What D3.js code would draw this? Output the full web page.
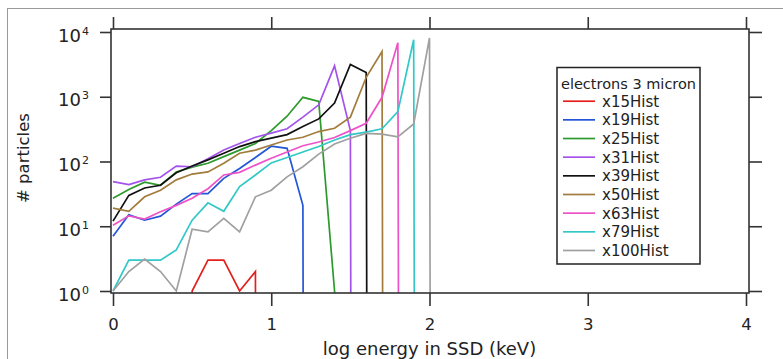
<!DOCTYPE html>
<html>
<head>
<meta charset="utf-8">
<script src="https://cdn.jsdelivr.net/npm/d3@7"></script>
<style>
  body { margin: 0; background: #fff; }
  text { font-family: "DejaVu Sans", sans-serif; fill: #222; }
</style>
</head>
<body>
<div id="chart"></div>
<script>
// log10 of energy (keV), one bin every 0.1
const logE = [0, 0.1, 0.2, 0.3, 0.4, 0.5, 0.6, 0.7, 0.8, 0.9, 1.0,
              1.1, 1.2, 1.3, 1.4, 1.5, 1.6, 1.7, 1.8, 1.9, 2.0, 2.1];

const seriesNames = ["x15Hist", "x19Hist", "x25Hist", "x31Hist", "x39Hist",
                     "x50Hist", "x63Hist", "x79Hist", "x100Hist"];
const seriesColors = ["#e4201c", "#2456d8", "#2c9a2c", "#a452ec", "#111111",
                      "#a27c3c", "#ee52c8", "#32c8c8", "#a0a0a0"];

// counts per bin (0 = empty bin)
const x15Hist  = [0, 0, 0, 0, 0, 1, 3, 3, 1, 2, 0];
const x19Hist  = [7, 15, 12.4, 14.3, 22, 32, 32, 55, 78, 115, 172, 160, 21, 0];
const x25Hist  = [27, 37, 48, 43, 69, 82, 94, 119, 150, 190, 300, 500, 980, 845, 1, 0];
const x31Hist  = [49, 44, 52, 57, 85, 83, 110, 151, 190, 237, 274, 320, 485, 750, 3000, 300, 0];
const x39Hist  = [12, 30, 39, 43, 67, 85, 106, 134, 170, 203, 229, 260, 346, 455, 800, 3150, 2360, 0];
const x50Hist  = [19, 17, 28.5, 36, 52, 64, 69, 94, 134, 150, 180, 215, 237, 290, 326, 485, 2000, 5000, 0];
const x63Hist  = [10.4, 14.5, 12.9, 16.7, 21, 27, 38, 62, 68, 88, 112, 140, 175, 200, 235, 300, 390, 980, 6800, 0];
const x79Hist  = [1, 3, 3, 3, 4.3, 12.4, 23, 17, 41, 62, 95, 115, 140, 170, 215, 260, 285, 320, 590, 7600, 0];
const x100Hist = [1, 2, 3.1, 2, 1, 9, 8.2, 13.2, 8.2, 28.5, 36, 58, 83, 130, 186, 229, 272, 265, 240, 380, 8100, 0];

const xTicks = [0, 1, 2, 3, 4];
const yTicks = [1, 10, 100, 1000, 10000];
const yTickExp = ["0", "1", "2", "3", "4"];

const legendTitle = "electrons 3 micron";
const xTitle = "log energy in SSD (keV)";
const yTitle = "# particles";

function draw() {
    let width = 783, height = 359;
    let allSeries = [x15Hist, x19Hist, x25Hist, x31Hist, x39Hist, x50Hist, x63Hist, x79Hist, x100Hist];

    let svg = d3.select("#chart").append("svg")
        .attr("width", width)
        .attr("height", height);

    // outer border of the figure
    svg.append("rect")
        .attr("x", 7.5).attr("y", 8.5)
        .attr("width", 820).attr("height", 400)
        .attr("fill", "none").attr("stroke", "#9a9a9a");

    let x = d3.scaleLinear().domain([0, 4]).range([113, 746]);
    let y = d3.scaleLog().domain([1, 10000]).range([291, 32]);

    // plot frame sits a little outside the tick range
    let fl = x(0) - 2, fr = x(4) + 3, ft = y(10000) - 3, fb = y(1) + 2;

    svg.append("clipPath").attr("id", "plotclip")
        .append("rect")
        .attr("x", fl).attr("y", ft)
        .attr("width", fr - fl).attr("height", fb - ft);

    // empty bins go down to "minus infinity" on the log axis
    let line = d3.line()
        .x((d, i) => x(logE[i]))
        .y(d => y(Math.max(d, 1e-100)));

    svg.append("g")
        .attr("clip-path", "url(#plotclip)")
        .selectAll("path")
        .data(allSeries)
        .enter().append("path")
        .attr("d", d => line(d))
        .attr("fill", "none")
        .attr("stroke", (d, i) => seriesColors[i])
        .attr("stroke-width", 1.7)
        .attr("stroke-linejoin", "miter");

    // frame
    svg.append("rect")
        .attr("x", fl).attr("y", ft)
        .attr("width", fr - fl).attr("height", fb - ft)
        .attr("fill", "none").attr("stroke", "#333").attr("stroke-width", 1.6);

    function styleAxis(g) {
        g.select(".domain").remove();
        g.selectAll(".tick line").attr("stroke", "#333").attr("stroke-width", 1.6);
    }

    // bottom axis with labels
    svg.append("g")
        .attr("transform", "translate(0," + fb + ")")
        .call(d3.axisBottom(x).tickValues(xTicks).tickFormat(d3.format("d"))
              .tickSize(13).tickPadding(12))
        .call(styleAxis)
        .selectAll("text")
        .style("font-size", "16.5px")
        .style("font-family", "DejaVu Sans, sans-serif")
        .attr("fill", "#222");

    // top, left, right ticks only
    svg.append("g")
        .attr("transform", "translate(0," + ft + ")")
        .call(d3.axisTop(x).tickValues(xTicks).tickFormat("").tickSize(12))
        .call(styleAxis);

    svg.append("g")
        .attr("transform", "translate(" + fl + ",0)")
        .call(d3.axisLeft(y).tickValues(yTicks).tickFormat("").tickSize(11))
        .call(styleAxis);

    svg.append("g")
        .attr("transform", "translate(" + fr + ",0)")
        .call(d3.axisRight(y).tickValues(yTicks).tickFormat("").tickSize(13))
        .call(styleAxis);

    // 10^n labels
    let yl = svg.append("g").selectAll("g")
        .data(yTicks)
        .enter().append("g")
        .attr("transform", d => "translate(0," + y(d) + ")");
    yl.append("text")
        .attr("x", 81).attr("y", 9.5)
        .attr("text-anchor", "end")
        .style("font-size", "18px")
        .text("10");
    yl.append("text")
        .attr("x", 82).attr("y", 2.5)
        .style("font-size", "11px")
        .text((d, i) => yTickExp[i]);

    // axis titles
    svg.append("text")
        .attr("x", (x(0) + x(4)) / 2).attr("y", 355)
        .attr("text-anchor", "middle")
        .style("font-size", "18px")
        .text(xTitle);

    svg.append("text")
        .attr("transform", "translate(29," + ((ft + fb) / 2 - 3) + ") rotate(-90)")
        .attr("text-anchor", "middle")
        .style("font-size", "16.5px")
        .text(yTitle);

    // legend
    let lg = svg.append("g");
    lg.append("rect")
        .attr("x", 557).attr("y", 67.5)
        .attr("width", 143).attr("height", 196.5)
        .attr("fill", "#fff").attr("stroke", "#222").attr("stroke-width", 1.5);
    lg.append("text")
        .attr("x", 561).attr("y", 88.5)
        .style("font-size", "14.5px")
        .text(legendTitle);

    let rows = lg.selectAll("g.row")
        .data(seriesNames)
        .enter().append("g")
        .attr("class", "row")
        .attr("transform", (d, i) => "translate(0," + (106.7 + i * 18.66) + ")");
    rows.append("line")
        .attr("x1", 563).attr("x2", 595)
        .attr("y1", -5.5).attr("y2", -5.5)
        .attr("stroke", (d, i) => seriesColors[i])
        .attr("stroke-width", 1.7);
    rows.append("text")
        .attr("x", 602).attr("y", 0)
        .style("font-size", "15px")
        .text(d => d);
}

window.onload = () => {
    draw();
}
</script>
</body>
</html>
